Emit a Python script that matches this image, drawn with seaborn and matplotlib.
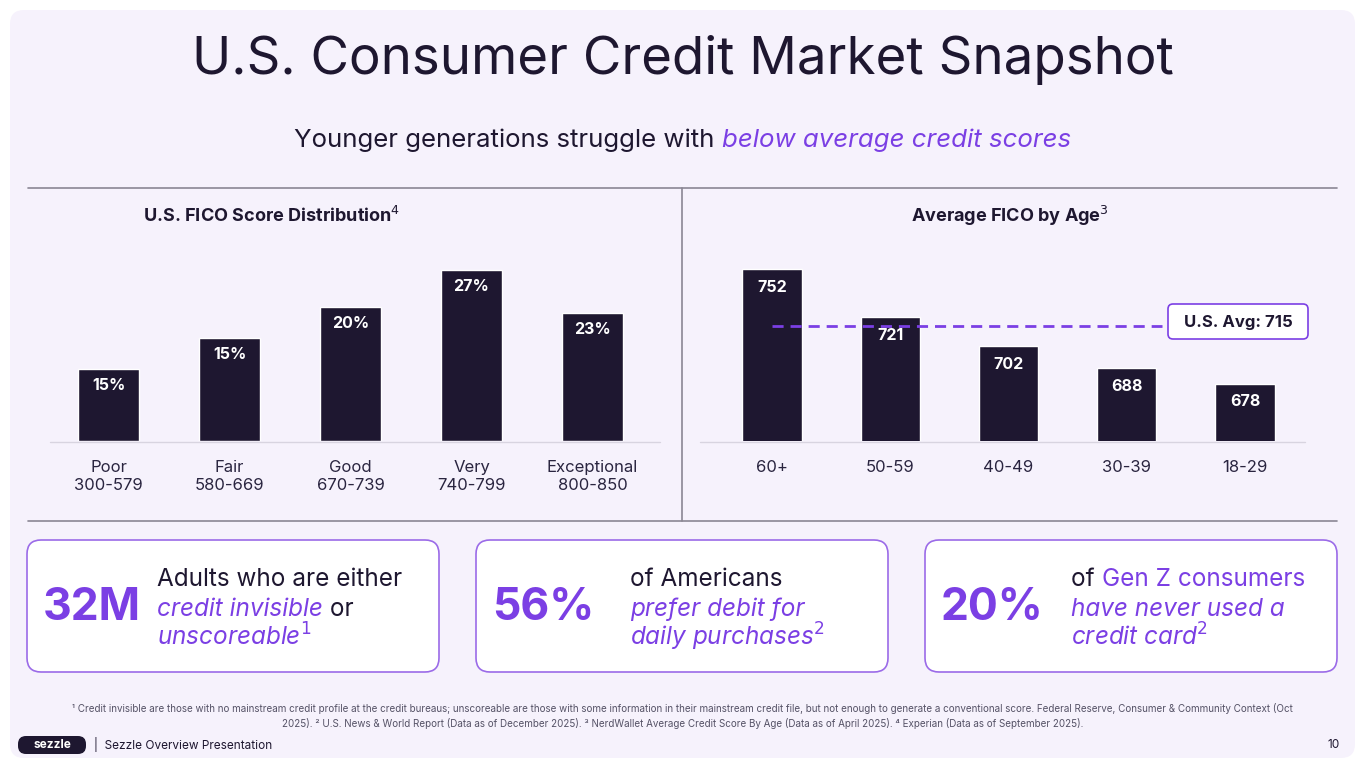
import matplotlib
matplotlib.use("Agg")
import matplotlib.pyplot as plt
import seaborn as sns
import pandas as pd
from matplotlib.patches import FancyBboxPatch

sns.set_theme(style="white")
plt.rcParams["font.family"] = ["Inter", "DejaVu Sans"]

# data
fico_bands = ["Poor\n300-579", "Fair\n580-669", "Good\n670-739", "Very\n740-799", "Exceptional\n800-850"]
fico_heights = [11.4, 16.3, 21.2, 27.0, 20.2]   # drawn bar heights
fico_labels = ["15%", "15%", "20%", "27%", "23%"]
age_groups = ["60+", "50-59", "40-49", "30-39", "18-29"]
age_fico = [752, 721, 702, 688, 678]
us_avg = 715

DARK = "#1e1730"
PURPLE = "#7b3fe4"
W, H = 1365, 768

fig = plt.figure(figsize=(W / 100, H / 100), dpi=100)
fig.patch.set_facecolor("white")

bg = fig.add_axes([0, 0, 1, 1])
bg.set_xlim(0, W)
bg.set_ylim(H, 0)
bg.axis("off")
bg.add_patch(FancyBboxPatch((10, 10), W - 20, H - 20, boxstyle="round,pad=0,rounding_size=14",
                            fc="#f6f2fc", ec="none"))

def ax_px(x0, y0, x1, y1):
    return fig.add_axes([x0 / W, 1 - y1 / H, (x1 - x0) / W, (y1 - y0) / H])

def runs(x, y, parts, size, ha="left"):
    # draw text segments one after another on one line
    r = fig.canvas.get_renderer()
    inv = bg.transData.inverted()
    for s, c, style in parts:
        t = bg.text(x, y, s, fontsize=size, color=c, style=style, va="baseline")
        bb = t.get_window_extent(r)
        x = inv.transform((bb.x1, bb.y0))[0]
    return x

bg.text(W / 2, 60, "U.S. Consumer Credit Market Snapshot", ha="center", va="center", fontsize=38, color=DARK)
runs(294, 147, [("Younger generations struggle with ", DARK, "normal"),
                ("below average credit scores", PURPLE, "italic")], 18.6)

for yy in (188, 521):
    bg.plot([28, 1337], [yy, yy], color="#8a8794", lw=1.2)
bg.plot([682, 682], [188, 521], color="#8a8794", lw=1.2)
bg.text(272, 216, "U.S. FICO Score Distribution$^4$", ha="center", va="center", fontsize=13, weight="bold", color=DARK)
bg.text(1010, 216, "Average FICO by Age$^3$", ha="center", va="center", fontsize=13, weight="bold", color=DARK)

# left chart
ax1 = ax_px(36, 230, 653, 441)
df1 = pd.DataFrame({"band": fico_bands, "v": fico_heights})
sns.barplot(data=df1, x="band", y="v", color=DARK, saturation=1, width=0.5, ax=ax1)
ax1.set_xlim(-0.6, 4.5)
ax1.set_ylim(0, 33.3)
for i, (v, lab) in enumerate(zip(fico_heights, fico_labels)):
    ax1.text(i, v - 1.4, lab, ha="center", va="top", color="white", fontsize=11.5, weight="bold")

# right chart
ax2 = ax_px(701, 230, 1316, 441)
df2 = pd.DataFrame({"age": age_groups, "v": age_fico})
sns.barplot(data=df2, x="age", y="v", color=DARK, saturation=1, width=0.5, ax=ax2)
ax2.set_xlim(-0.6, 4.6)
ax2.set_ylim(641, 641 + 211 / 1.55)
for i, v in enumerate(age_fico):
    ax2.text(i, v - 7, str(v), ha="center", va="top", color="white", fontsize=11.5, weight="bold")
ax2.plot([0, 3.3], [us_avg, us_avg], color=PURPLE, lw=2, ls=(0, (4, 2.5)), zorder=3)

for ax in (ax1, ax2):
    ax.patch.set_alpha(0)
    sns.despine(ax=ax, left=True, top=True, right=True, bottom=True)
    ax.set_yticks([])
    ax.set_xlabel("")
    ax.set_ylabel("")
    ax.tick_params(axis="x", length=0, pad=14, labelsize=12, labelcolor="#2a2540")
bg.plot([50, 660], [442, 442], color="#d8d4e0", lw=1)
bg.plot([700, 1305], [442, 442], color="#d8d4e0", lw=1)

bg.add_patch(FancyBboxPatch((1168, 304), 140, 35, boxstyle="round,pad=0,rounding_size=5",
                            fc="white", ec=PURPLE, lw=1.2, zorder=4))
bg.text(1238, 322, "U.S. Avg: 715", ha="center", va="center", fontsize=12, weight="bold", color=DARK, zorder=5)

# cards
cards = [
    (27, "32M", 130, [[("Adults who are either", DARK, "normal")],
                      [("credit invisible", PURPLE, "italic"), (" or", DARK, "normal")],
                      [("unscoreable$^1$", PURPLE, "italic")]]),
    (476, "56%", 154, [[("of Americans", DARK, "normal")],
                       [("prefer debit for", PURPLE, "italic")],
                       [("daily purchases$^2$", PURPLE, "italic")]]),
    (925, "20%", 146, [[("of ", DARK, "normal"), ("Gen Z consumers", PURPLE, "normal")],
                       [("have never used a", PURPLE, "italic")],
                       [("credit card$^2$", PURPLE, "italic")]]),
]
for x0, big, off, lines in cards:
    bg.add_patch(FancyBboxPatch((x0, 540), 412, 132, boxstyle="round,pad=0,rounding_size=14",
                                fc="white", ec="#9b6be8", lw=1.2))
    bg.text(x0 + 16, 608, big, va="center", fontsize=32, weight="bold", color=PURPLE)
    for k, parts in enumerate(lines):
        runs(x0 + off, 586 + k * 30, parts, 17.5)

bg.text(W / 2, 716, "¹ Credit invisible are those with no mainstream credit profile at the credit bureaus; unscoreable are those with some information in their mainstream credit file, but not enough to generate a conventional score. Federal Reserve, Consumer & Community Context (Oct\n"
        "2025). ² U.S. News & World Report (Data as of December 2025). ³ NerdWallet Average Credit Score By Age (Data as of April 2025). ⁴ Experian (Data as of September 2025).",
        ha="center", va="center", fontsize=7.1, color="#555266", linespacing=1.5)
bg.add_patch(FancyBboxPatch((18, 736), 68, 18, boxstyle="round,pad=0,rounding_size=8", fc=DARK, ec="none"))
bg.text(52, 745, "sezzle", ha="center", va="center", fontsize=8.5, color="white", weight="bold")
bg.text(94, 745, "|  Sezzle Overview Presentation", va="center", fontsize=8.5, color=DARK)
bg.text(1340, 745, "10", ha="right", va="center", fontsize=8.5, color=DARK)

fig.savefig("out.png", dpi=100, facecolor=fig.get_facecolor())
